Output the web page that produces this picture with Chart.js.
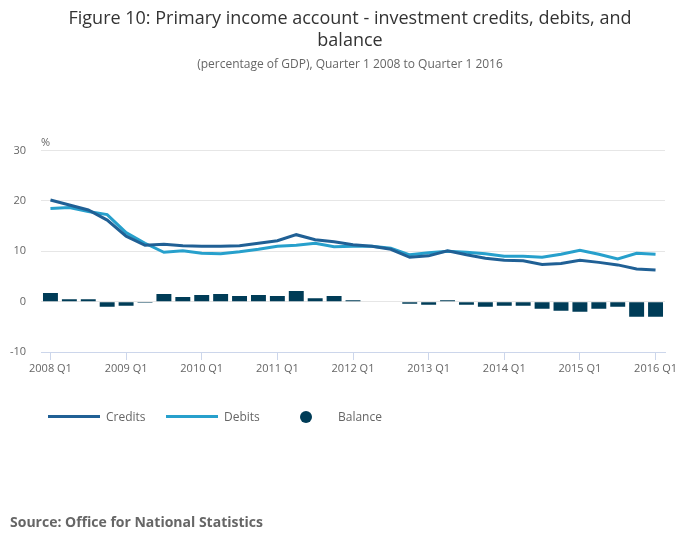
<!DOCTYPE html>
<html>
<head>
<meta charset="utf-8">
<script src="https://cdn.jsdelivr.net/npm/chart.js@4.4.1/dist/chart.umd.min.js"></script>
<style>
  body{margin:0;background:#fff;font-family:'Open Sans',sans-serif;}
  #wrap{position:relative;width:700px;height:549px;}
  #legend{position:absolute;top:407px;left:0;width:700px;height:20px;font-size:12px;color:#666;}
  #legend .item{position:absolute;top:0;height:20px;line-height:20px;white-space:nowrap;}
  #legend .swatch{position:absolute;top:8px;height:3px;}
  #legend .dot{position:absolute;top:4px;width:12px;height:12px;border-radius:50%;}
  #source{position:absolute;left:10px;top:512px;font-size:14px;font-weight:bold;color:#666;}
</style>
</head>
<body>
<div id="wrap">
  <canvas id="chart"></canvas>
  <div id="legend"></div>
  <div id="source">Source: Office for National Statistics</div>
</div>
<script>
const quarters = [
  '2008 Q1','2008 Q2','2008 Q3','2008 Q4',
  '2009 Q1','2009 Q2','2009 Q3','2009 Q4',
  '2010 Q1','2010 Q2','2010 Q3','2010 Q4',
  '2011 Q1','2011 Q2','2011 Q3','2011 Q4',
  '2012 Q1','2012 Q2','2012 Q3','2012 Q4',
  '2013 Q1','2013 Q2','2013 Q3','2013 Q4',
  '2014 Q1','2014 Q2','2014 Q3','2014 Q4',
  '2015 Q1','2015 Q2','2015 Q3','2015 Q4',
  '2016 Q1'
];
const credits = [20.2,19.2,18.2,16.2,13.0,11.2,11.4,11.1,11.0,11.0,11.1,11.6,12.1,13.3,12.3,11.9,
                 11.3,11.0,10.4,8.8,9.1,10.1,9.3,8.6,8.2,8.1,7.4,7.6,8.2,7.8,7.3,6.5,6.3];
const debits  = [18.5,18.7,17.9,17.3,13.7,11.6,9.8,10.1,9.6,9.5,9.9,10.4,11.0,11.2,11.6,10.9,
                 11.0,11.0,10.6,9.3,9.7,10.0,9.8,9.5,9.0,9.0,8.8,9.4,10.2,9.4,8.5,9.6,9.4];
const balance = [1.7,0.5,0.5,-1.0,-0.8,-0.2,1.5,0.9,1.3,1.5,1.1,1.3,1.1,2.1,0.7,1.1,
                 0.3,0.0,-0.1,-0.4,-0.6,0.3,-0.6,-1.0,-0.8,-0.8,-1.4,-1.8,-2.0,-1.4,-1.0,-3.0,-3.0];
const yTicks = [-10, 0, 10, 20, 30];

const COLORS = {credits:'#206095', debits:'#27a0cc', balance:'#003c57'};

Chart.defaults.font.family = "'Open Sans', sans-serif";
Chart.defaults.color = '#666';

// "%" unit label above the y axis
const unitLabel = {
  id:'unitLabel',
  afterDraw(chart){
    const {ctx, chartArea} = chart;
    ctx.save();
    ctx.font = "11px 'Open Sans', sans-serif";
    ctx.fillStyle = '#666';
    ctx.textBaseline = 'bottom';
    ctx.fillText('%', chartArea.left, chartArea.top - 2);
    ctx.restore();
  }
};

const chart = new Chart(document.getElementById('chart'), {
  type:'bar',
  data:{
    labels: quarters,
    datasets:[
      {type:'line', label:'Credits', data:credits, borderColor:COLORS.credits, backgroundColor:COLORS.credits,
       borderWidth:3, pointRadius:0, tension:0, order:1},
      {type:'line', label:'Debits', data:debits, borderColor:COLORS.debits, backgroundColor:COLORS.debits,
       borderWidth:3, pointRadius:0, tension:0, order:2},
      {type:'bar', label:'Balance', data:balance, backgroundColor:COLORS.balance,
       categoryPercentage:1, barPercentage:0.79, order:3}
    ]
  },
  options:{
    responsive:true, maintainAspectRatio:false, animation:false,
    layout:{padding:{left:0, right:0, bottom:167}},
    plugins:{
      legend:{display:false},
      tooltip:{enabled:false},
      title:{display:true, text:['Figure 10: Primary income account - investment credits, debits, and','balance'],
        color:'#333', font:{size:18, weight:'normal'}, padding:{top:8, bottom:6}, lineHeight:1.17},
      subtitle:{display:true, text:'(percentage of GDP), Quarter 1 2008 to Quarter 1 2016',
        color:'#666', font:{size:12}, padding:{top:0, bottom:79}}
    },
    scales:{
      x:{
        offset:true,
        grid:{offset:false, drawOnChartArea:false, drawTicks:true, tickLength:8,
          color: c => (c.index % 4 === 0 ? '#ccd6eb' : 'rgba(0,0,0,0)')},
        border:{color:'#ccd6eb'},
        ticks:{autoSkip:false, maxRotation:0, font:{size:11}, color:'#666', padding:2,
          callback:(v,i) => (i % 4 === 0 ? quarters[i] : '')},
        afterFit: s => { s.width = s.width; s.height = 30; }
      },
      y:{
        min:-10, max:30,
        afterBuildTicks: s => { s.ticks = yTicks.map(v => ({value:v})); },
        grid:{drawTicks:false, color: c => (c.tick && c.tick.value === -10 ? '#ccd6eb' : '#e6e6e6')},
        border:{display:false},
        ticks:{font:{size:11}, color:'#666', padding:15},
        afterFit: s => { s.width = 41; }
      },
      // empty right-hand axis: reserves the right margin without shifting the titles
      spacer:{
        position:'right', display:true, min:-10, max:30,
        grid:{display:false}, border:{display:false}, ticks:{display:false},
        afterFit: s => { s.width = 35; }
      }
    }
  },
  plugins:[unitLabel]
});

// HTML legend built from the datasets
const legendPos = [{sw:48, tx:106}, {sw:166, tx:224}, {sw:300, tx:338}];
document.getElementById('legend').innerHTML = chart.data.datasets.map((d, i) => {
  const p = legendPos[i];
  const mark = d.type === 'bar'
    ? `<span class="dot" style="left:${p.sw}px;background:${d.backgroundColor}"></span>`
    : `<span class="swatch" style="left:${p.sw}px;width:52px;background:${d.borderColor}"></span>`;
  return `${mark}<span class="item" style="left:${p.tx}px">${d.label}</span>`;
}).join('');
</script>
</body>
</html>
